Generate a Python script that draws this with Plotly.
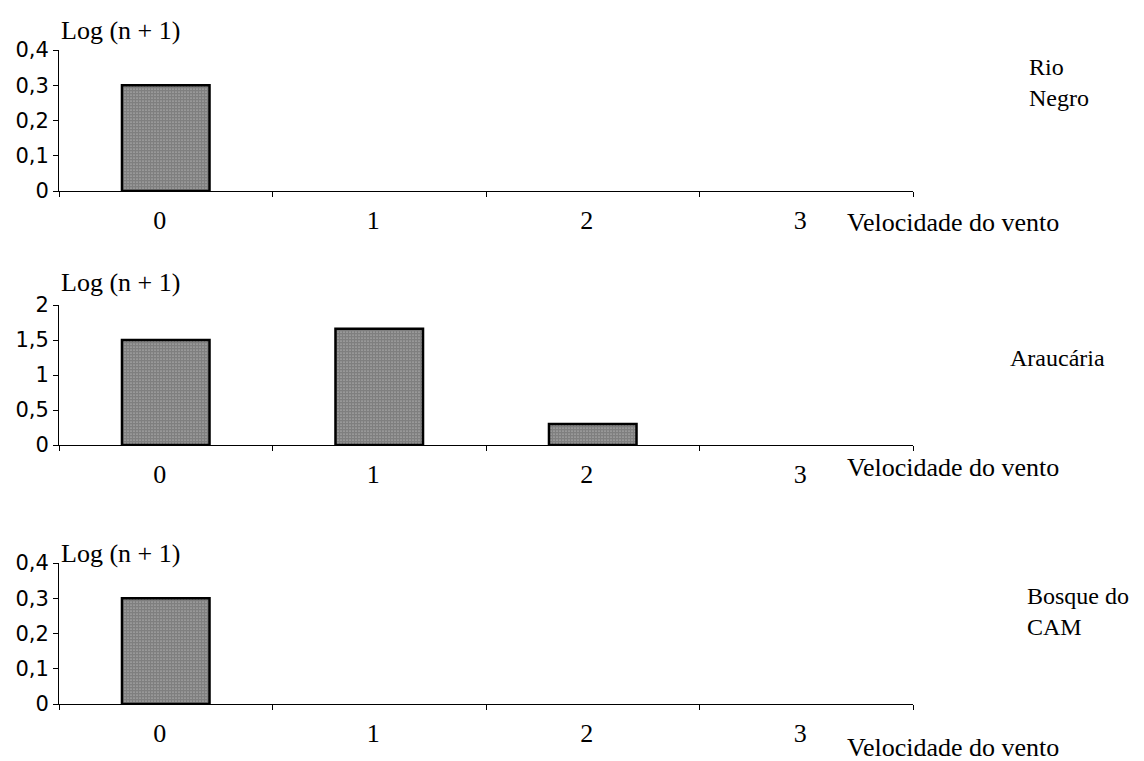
import plotly.graph_objects as go

categories = ["0", "1", "2", "3"]
rio_negro = [0.3, 0, 0, 0]
araucaria = [1.5, 1.66, 0.3, 0]
bosque_cam = [0.3, 0, 0, 0]
panel_names = ["Rio<br>Negro", "Araucária", "Bosque do<br>CAM"]
y_title = "Log (n + 1)"
x_title = "Velocidade do vento"

W, H = 1144, 761
OFF = 8  # page body margin
L = 59 - OFF
R = 231 + OFF
PW = W - L - R

def px(x):
    return (x - OFF - L) / PW

def py(y):
    return 1 - (y - OFF) / H

serif = "Liberation Serif"
sans = "DejaVu Sans"
SF = 26

fig = go.Figure()
series = [rio_negro, araucaria, bosque_cam]
domains = [(191, 50), (445, 305), (704, 563)]
ranges = [[0, 0.4], [0, 2], [0, 0.4]]
dticks = [0.1, 0.5, 0.1]

for i, vals in enumerate(series):
    xa = "x" if i == 0 else f"x{i+1}"
    ya = "y" if i == 0 else f"y{i+1}"
    fig.add_trace(go.Bar(
        x=categories, y=vals, xaxis=xa, yaxis=ya,
        marker=dict(color="white",
                    line=dict(color="black", width=[2.5 if v > 0 else 0 for v in vals]),
                    pattern=dict(shape=".", fgcolor="black", bgcolor="white",
                                 size=3, solidity=0.85, fillmode="overlay")),
        width=0.41, showlegend=False, hoverinfo="skip",
    ))
    b, t = domains[i]
    sfx = "" if i == 0 else str(i + 1)
    fig.layout["xaxis" + sfx] = dict(
        domain=[0, 1], anchor=ya, type="category", tickson="boundaries",
        ticks="outside", ticklen=5, tickcolor="black", showline=True,
        linecolor="black", linewidth=1, showgrid=False, zeroline=False,
        tickfont=dict(family=serif, size=SF, color="black"),
        ticklabelstandoff=6, ticklabelshift=-6, range=[-0.5, 3.5],
    )
    fig.layout["yaxis" + sfx] = dict(
        domain=[py(b), py(t)], anchor=xa, range=ranges[i], dtick=dticks[i],
        tick0=0, ticks="outside", ticklen=5, tickcolor="black", showline=True,
        linecolor="black", linewidth=1, showgrid=False, zeroline=False,
        tickfont=dict(family=sans, size=21, color="black"),
    )

annots = []
ylab_y = [31, 282, 553]
xlab_y = [222, 467, 747]
name_pos = [(1027, 82), (1008, 358), (1025, 611)]
for i in range(3):
    annots.append(dict(text=y_title, xref="paper", yref="paper", x=px(59),
                       y=py(ylab_y[i]), xanchor="left", yanchor="middle",
                       showarrow=False,
                       font=dict(family=serif, size=SF, color="black")))
    annots.append(dict(text=x_title, xref="paper", yref="paper", x=px(845),
                       y=py(xlab_y[i]), xanchor="left", yanchor="middle",
                       showarrow=False,
                       font=dict(family=serif, size=SF, color="black")))
    nx, ny = name_pos[i]
    annots.append(dict(text=panel_names[i], xref="paper", yref="paper",
                       x=px(nx), y=py(ny), xanchor="left", yanchor="middle",
                       align="left", showarrow=False,
                       font=dict(family=serif, size=24, color="black")))

fig.update_layout(
    width=W, height=H, margin=dict(l=L, r=R, t=0, b=0, autoexpand=False),
    paper_bgcolor="white", plot_bgcolor="white", separators=", ",
    annotations=annots, bargap=0.59,
)

fig.write_html("out.html")
